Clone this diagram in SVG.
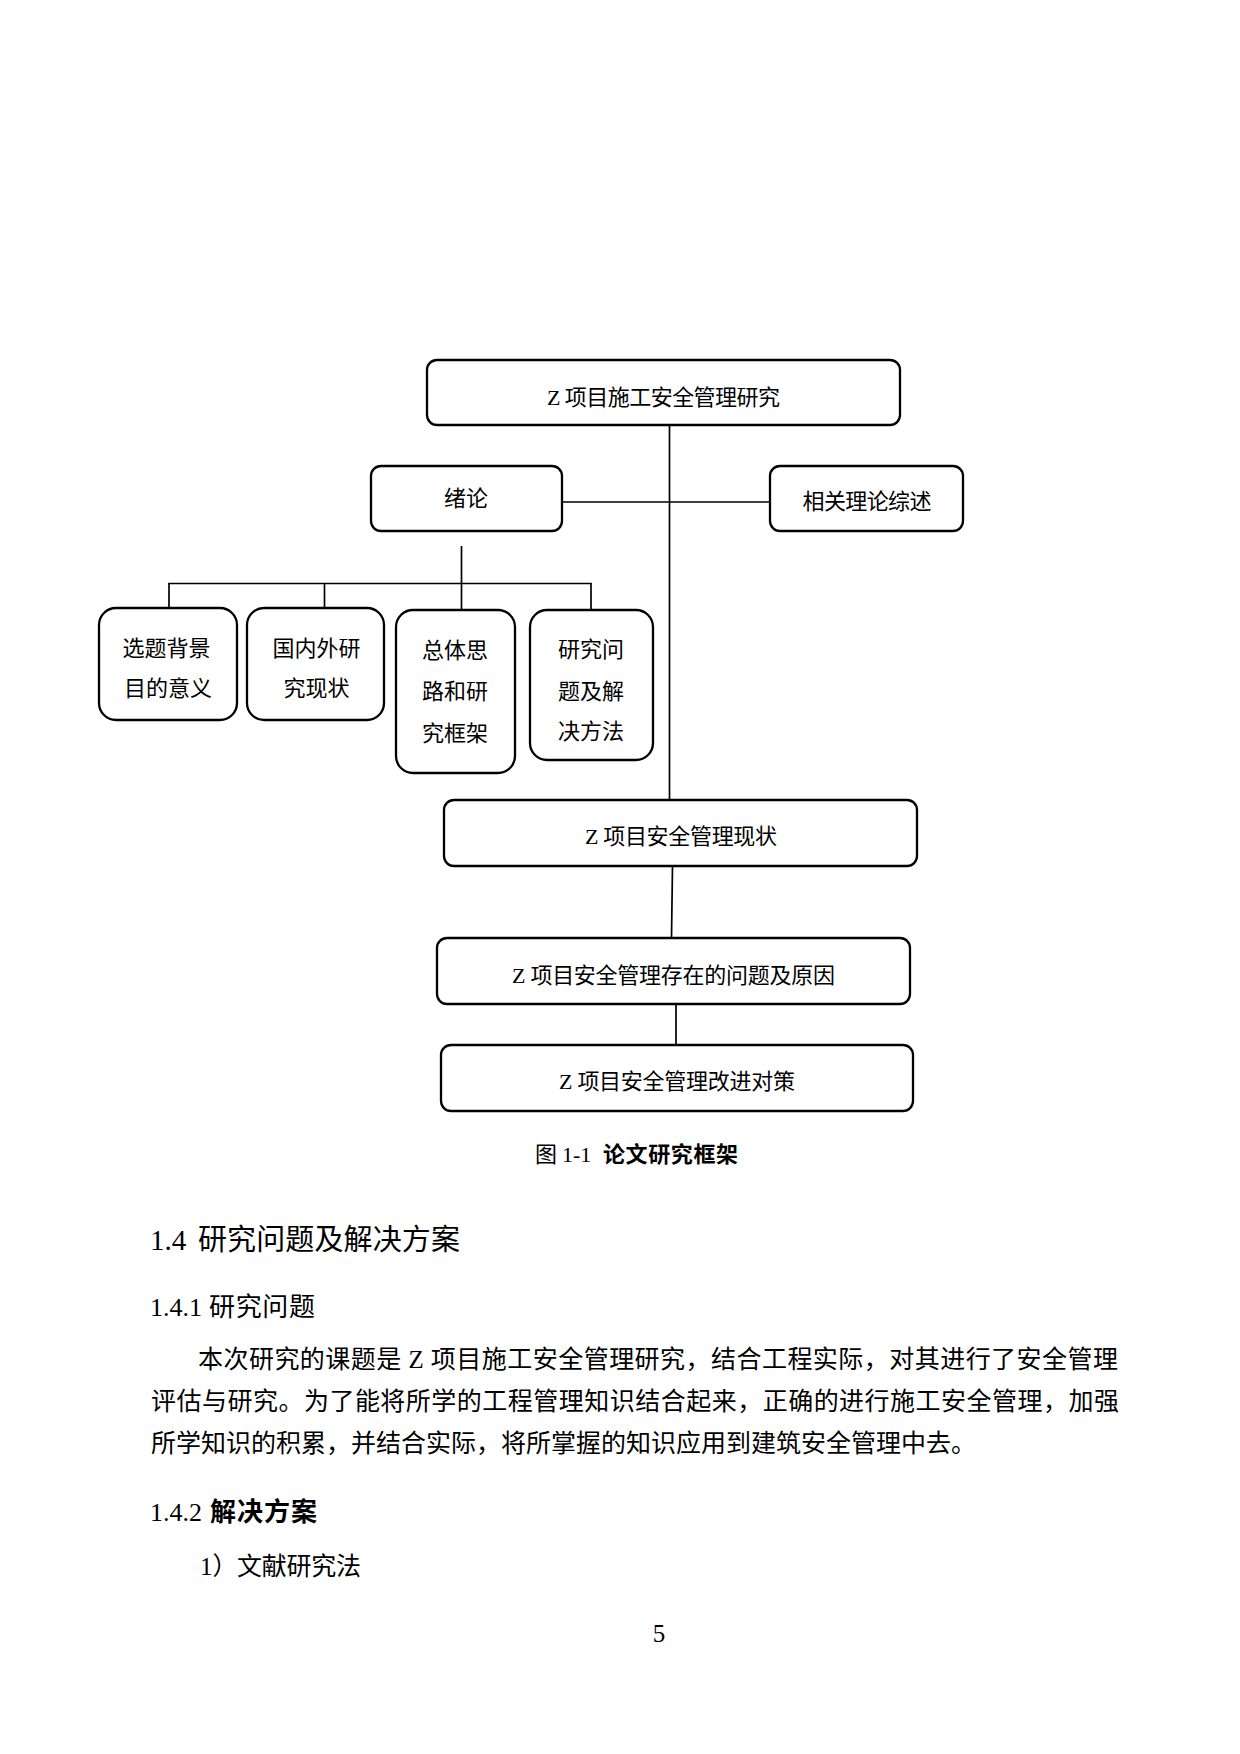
<svg xmlns="http://www.w3.org/2000/svg" width="1240" height="1754" viewBox="0 0 1240 1754">
<style>
.bx{fill:#fff;stroke:#000;stroke-width:2.3}
.cn{stroke:#000;stroke-width:1.7;fill:none}
.t{font-family:"Liberation Serif","Noto Sans CJK SC",serif;font-size:22px;fill:#000}
.p{font-family:"Liberation Serif","Noto Sans CJK SC",serif;font-size:25px;fill:#000}
.h{font-family:"Liberation Serif","Noto Sans CJK SC",sans-serif;fill:#000}
.m{text-anchor:middle}
</style>
<rect width="1240" height="1754" fill="#fff"/>
<g id="connectors">
<line class="cn" x1="669.5" y1="425" x2="669.5" y2="800"/>
<line class="cn" x1="562" y1="502" x2="770" y2="502"/>
<line class="cn" x1="461.5" y1="546" x2="461.5" y2="610"/>
<line class="cn" x1="168.5" y1="583.5" x2="591.5" y2="583.5"/>
<line class="cn" x1="169" y1="583" x2="169" y2="608"/>
<line class="cn" x1="324.5" y1="583" x2="324.5" y2="608"/>
<line class="cn" x1="591" y1="583" x2="591" y2="610"/>
<line class="cn" x1="672.5" y1="866" x2="671.5" y2="938"/>
<line class="cn" x1="676" y1="1004" x2="676" y2="1045"/>
</g>
<g id="n-top">
<rect class="bx" x="427" y="360" width="473" height="65" rx="10"/>
<text class="t m" x="663.5" y="405" textLength="233" lengthAdjust="spacing">Z 项目施工安全管理研究</text>
</g>
<g id="n-xulun">
<rect class="bx" x="371" y="466" width="191" height="65" rx="10"/>
<text class="t m" x="466" y="506">绪论</text>
</g>
<g id="n-lilun">
<rect class="bx" x="770" y="466" width="193" height="65" rx="10"/>
<text class="t m" x="867" y="509" textLength="129" lengthAdjust="spacing">相关理论综述</text>
</g>
<g id="n-b1">
<rect class="bx" x="99" y="608" width="138" height="112" rx="17"/>
<text class="t m" x="166.5" y="655.5">选题背景</text>
<text class="t m" x="168" y="695.5">目的意义</text>
</g>
<g id="n-b2">
<rect class="bx" x="247" y="608" width="137" height="112" rx="17"/>
<text class="t m" x="316.5" y="655.5">国内外研</text>
<text class="t m" x="316.5" y="695.5">究现状</text>
</g>
<g id="n-b3">
<rect class="bx" x="396" y="610" width="119" height="163" rx="17"/>
<text class="t m" x="455" y="657.5">总体思</text>
<text class="t m" x="455" y="698.5">路和研</text>
<text class="t m" x="455" y="740.5">究框架</text>
</g>
<g id="n-b4">
<rect class="bx" x="530" y="610" width="123" height="150" rx="17"/>
<text class="t m" x="591" y="656.5">研究问</text>
<text class="t m" x="591" y="698.5">题及解</text>
<text class="t m" x="591" y="738.5">决方法</text>
</g>
<g id="n-xianzhuang">
<rect class="bx" x="444" y="800" width="473" height="66" rx="10"/>
<text class="t m" x="681" y="843.5" textLength="192" lengthAdjust="spacing">Z 项目安全管理现状</text>
</g>
<g id="n-wenti">
<rect class="bx" x="437" y="938" width="473" height="66" rx="10"/>
<text class="t m" x="673.5" y="982.5" textLength="323" lengthAdjust="spacing">Z 项目安全管理存在的问题及原因</text>
</g>
<g id="n-duice">
<rect class="bx" x="441" y="1045" width="472" height="66" rx="10"/>
<text class="t m" x="677" y="1088.5" textLength="236" lengthAdjust="spacing">Z 项目安全管理改进对策</text>
</g>
<g id="caption">
<text class="h" y="1162" font-size="22"><tspan x="535" font-family="Noto Sans CJK SC">图</tspan><tspan x="562">1-1</tspan><tspan x="603" font-family="Noto Sans CJK SC" font-weight="bold" textLength="135" lengthAdjust="spacing">论文研究框架</tspan></text>
</g>
<g id="body">
<text class="h" y="1250" font-size="29"><tspan x="150">1.4</tspan><tspan x="198" font-family="Noto Sans CJK SC" textLength="262" lengthAdjust="spacing">研究问题及解决方案</tspan></text>
<text class="h" y="1316" font-size="26"><tspan x="150">1.4.1</tspan><tspan x="209" font-family="Noto Sans CJK SC" textLength="106" lengthAdjust="spacing">研究问题</tspan></text>
<text class="p" x="198" y="1368" textLength="920" lengthAdjust="spacing">本次研究的课题是 Z 项目施工安全管理研究，结合工程实际，对其进行了安全管理</text>
<text class="p" x="151" y="1410" textLength="968" lengthAdjust="spacing">评估与研究。为了能将所学的工程管理知识结合起来，正确的进行施工安全管理，加强</text>
<text class="p" x="151" y="1452">所学知识的积累，并结合实际，将所掌握的知识应用到建筑安全管理中去。</text>
<text class="h" y="1521" font-size="26"><tspan x="150">1.4.2</tspan><tspan x="210" font-family="Noto Sans CJK SC" font-weight="bold" textLength="107" lengthAdjust="spacing">解决方案</tspan></text>
<text class="p" y="1575"><tspan x="200">1）</tspan><tspan x="237" textLength="124" lengthAdjust="spacing">文献研究法</tspan></text>
<text class="p m" x="659" y="1642" font-size="20">5</text>
</g>
</svg>
